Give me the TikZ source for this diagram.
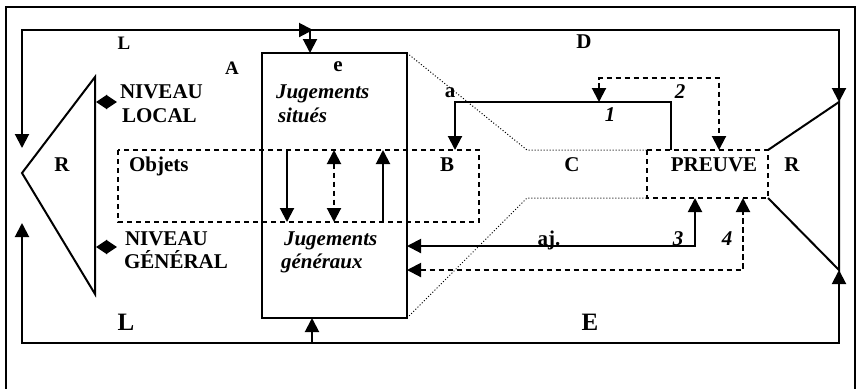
\documentclass[tikz,border=0pt]{standalone}
\usepackage{fontspec}
\setmainfont{Liberation Serif}
\usetikzlibrary{arrows.meta, positioning}
\tikzset{
  lbl/.style={font=\fontsize{10.5}{12}\selectfont\bfseries, inner sep=0pt},
  ilbl/.style={font=\fontsize{10.5}{12}\selectfont\bfseries\itshape, inner sep=0pt},
  slbl/.style={font=\fontsize{9.5}{11}\selectfont\bfseries, inner sep=0pt},
  blbl/.style={font=\fontsize{12.5}{14}\selectfont\bfseries, inner sep=0pt},
  dashflow/.style={dash pattern=on 2.6pt off 1.9pt},
  dotline/.style={line width=0.5pt, dash pattern=on 0.5pt off 1pt},
  lvlarrow/.style={{Triangle[length=5.5pt,width=7pt]}-{Triangle[length=5.5pt,width=7pt]}}
}
\begin{document}
\begin{tikzpicture}[x=0.5pt, y=-0.5pt, line width=1pt, >={Triangle[length=7pt,width=7pt]}]
    \useasboundingbox (0,0) rectangle (857,388);
    % Frame
    \draw (6,7) rectangle (855,400);
    % Points
    \coordinate (jnw) at (262,53); \coordinate (jse) at (407,318);
    \coordinate (jtop) at (310,53); \coordinate (jbot) at (312,318);
    \coordinate (onw) at (118,150); \coordinate (ose) at (479,222);
    \coordinate (pnw) at (647,150); \coordinate (pse) at (768,198);
    \coordinate (pne) at (768,150); \coordinate (psw) at (647,198);
    \coordinate (ltip) at (22,148); \coordinate (lup) at (22,223);
    \coordinate (rtip) at (839,102); \coordinate (rup) at (839,270);
    \coordinate (topR) at (839,30); \coordinate (botR) at (839,343);
    \coordinate (topM) at (310,30); \coordinate (botM) at (312,343);
    \coordinate (topIn) at (285,30); \coordinate (topTip) at (313,30);
    \coordinate (rLt) at (95,77); \coordinate (rLm) at (22,173); \coordinate (rLb) at (95,294);
    % Loops
    \draw[<->] (ltip) |- (topR) -- (rtip);
    \draw[->] (topIn) -- (topTip);
    \draw[->] (topM) -- (jtop);
    \draw[<->] (lup) |- (botR) -- (rup);
    \draw[->] (botM) -- (jbot);
    % R shapes
    \draw (rLt) -- (rLm) -- (rLb) -- cycle;
    \draw (pne) -- (rtip) -- (rup) -- (pse);
    % Boxes
    \draw (jnw) rectangle (jse);
    \draw[dashflow] (onw) rectangle (ose);
    \draw[dashflow] (pnw) rectangle (pse);
    \draw[dotline] (jse |- jnw) -- (527,150) -- (pnw);
    \draw[dotline] (jse) -- (527,198) -- (psw);
    % Levels
    \draw[lvlarrow] (96,102) -- (117,102);
    \draw[lvlarrow] (96,247) -- (117,247);
    % Inside arrows
    \draw[->] (287,150) -- (287,222);
    \draw[<->, dashflow] (334,150) -- (334,222);
    \draw[->] (383,222) -- (383,150);
    % Arrows 1 to 4
    \draw[->] (671,150) |- (455,102) -- (455,150);
    \draw[<->, dashflow] (599,102) |- (719,78) -- (719,150);
    \draw[<->] (407,246) -| (695,198);
    \draw[<->, dashflow] (407,270) -| (743,198);
    % Labels
    \node[slbl] (tL) at (124,43) {L};
    \node[slbl] (tA) at (232,68) {A};
    \node[lbl] (te) at (338,67) {e};
    \node[lbl] (tD) at (584,42) {D};
    \node[lbl, anchor=base west] (nivL) at (119,98) {NIVEAU};
    \node[lbl, anchor=base west] (locL) at (121,122) {LOCAL};
    \node[ilbl, anchor=base west] (jugS) at (275,98) {Jugements};
    \node[ilbl, anchor=base west] (sit) at (277,122) {situés};
    \node[lbl] (rL) at (62,165) {R};
    \node[lbl, anchor=base west] (obj) at (128,171) {Objets};
    \node[lbl] (tB) at (447,165) {B};
    \node[lbl] (tC) at (572,165) {C};
    \node[lbl] (prv) at (714,165) {PREUVE};
    \node[lbl] (rR) at (792,165) {R};
    \node[lbl] (ta) at (450,93) {a};
    \node[ilbl] (n1) at (610,115) {1};
    \node[ilbl] (n2) at (680,92) {2};
    \node[lbl, anchor=base west] (nivG) at (124,245) {NIVEAU};
    \node[lbl, anchor=base west] (gen) at (123,268) {GÉNÉRAL};
    \node[ilbl, anchor=base west] (jugG) at (283,245) {Jugements};
    \node[ilbl, anchor=base west] (genx) at (280,268) {généraux};
    \node[lbl, anchor=base] (aj) at (549,245) {aj.};
    \node[ilbl, anchor=base] (n3) at (678,245) {3};
    \node[ilbl, anchor=base] (n4) at (727,245) {4};
    \node[blbl] (bL) at (126,322) {L};
    \node[blbl] (tE) at (590,322) {E};
\end{tikzpicture}
\end{document}
